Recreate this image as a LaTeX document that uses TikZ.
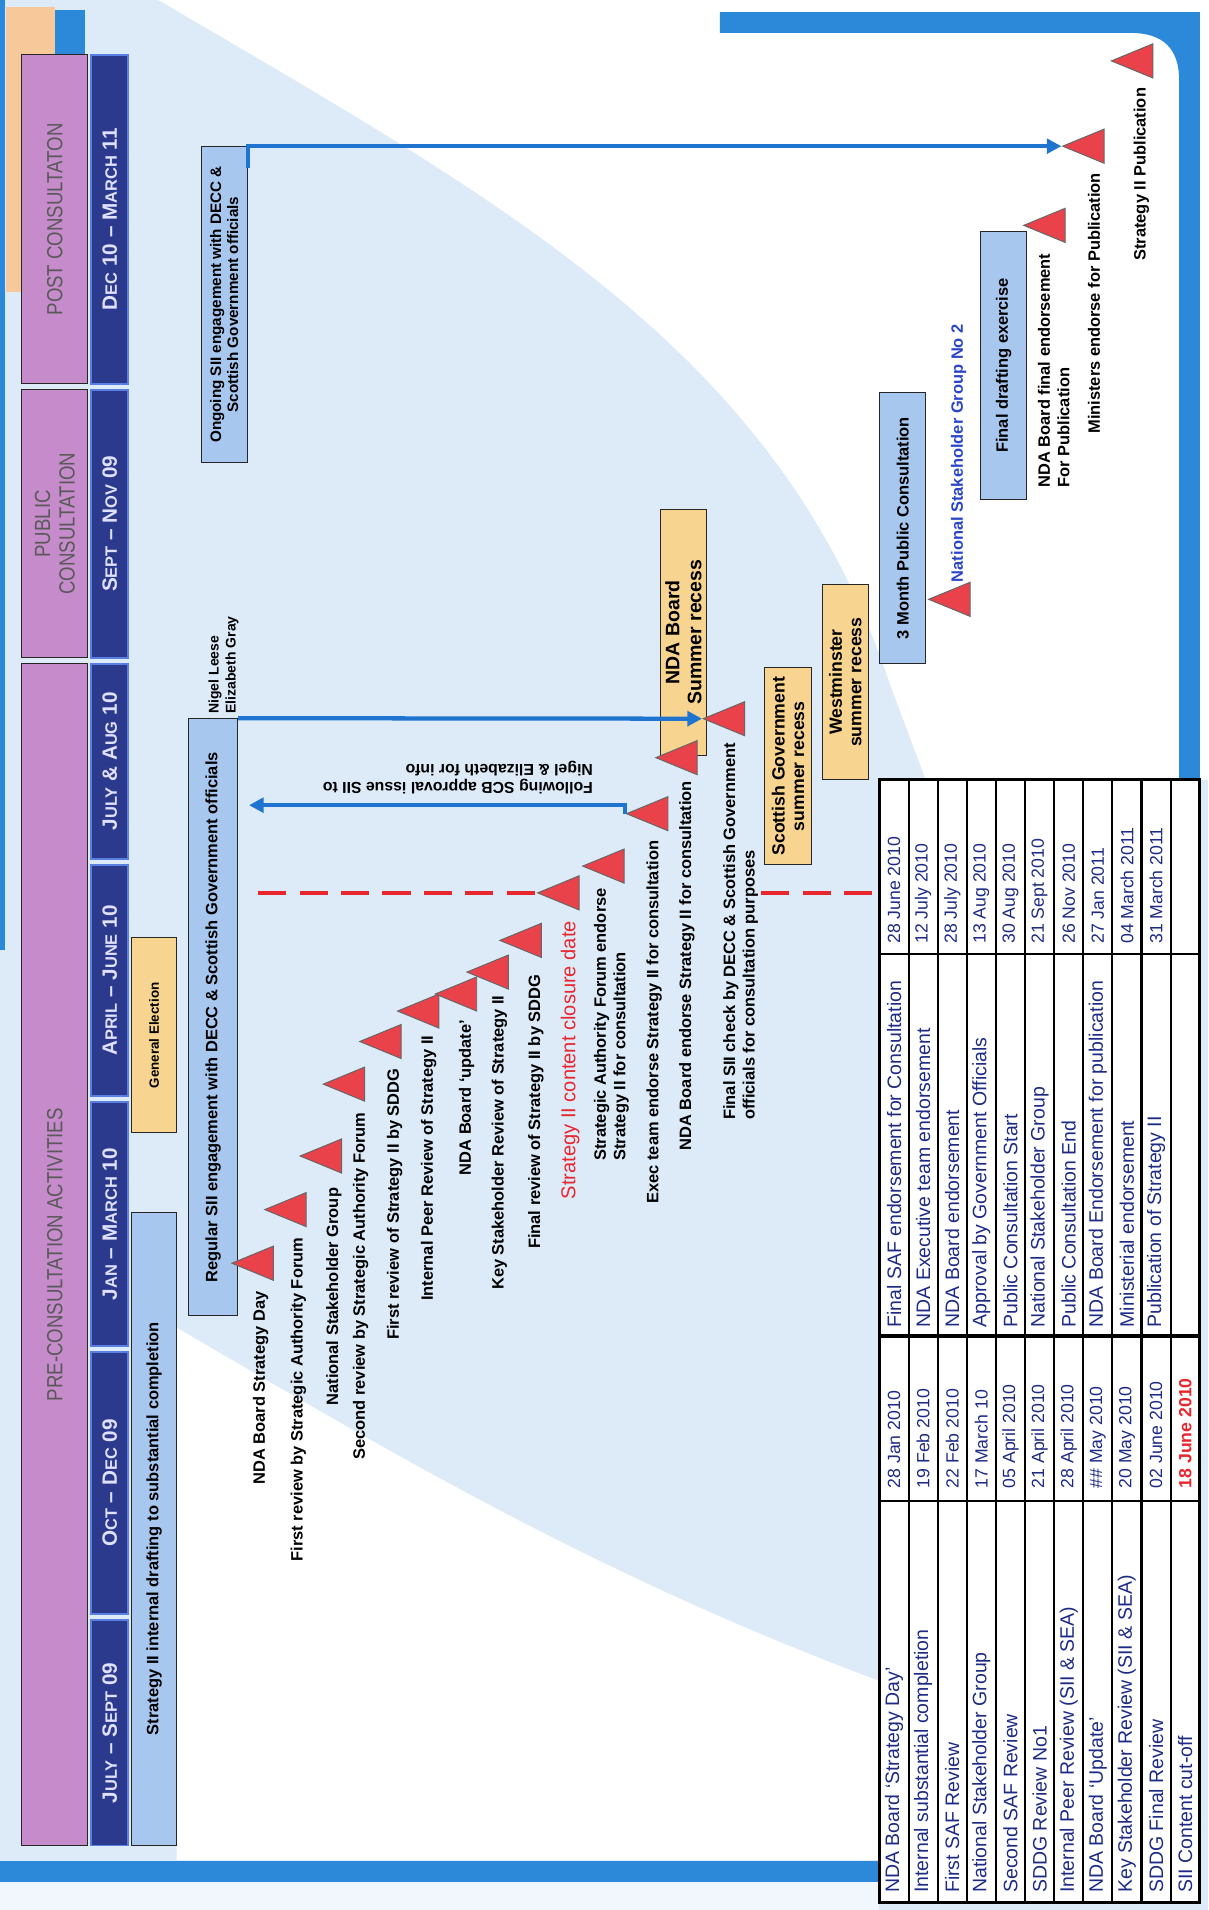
\documentclass[tikz,border=0pt]{standalone}
\usepackage{fontspec}
\setmainfont{Liberation Sans}
\newfontfamily\narrowsans{Liberation Sans}[FakeStretch=0.85]
\usetikzlibrary{shapes.geometric}
\usetikzlibrary{arrows.meta}
\usetikzlibrary{positioning}
\definecolor{bgblue}{HTML}{DDEBF8}
\definecolor{frameblue}{HTML}{2C88D9}
\definecolor{peach}{HTML}{F6C89A}
\definecolor{phasepurple}{HTML}{C58BCB}
\definecolor{monthnavy}{HTML}{2C3A8E}
\definecolor{monthedge}{HTML}{5A7FE0}
\definecolor{taskblue}{HTML}{A8C7EF}
\definecolor{recessyellow}{HTML}{F7D48F}
\definecolor{milered}{HTML}{E9424B}
\definecolor{linkblue}{HTML}{1F74CF}
\definecolor{closurered}{HTML}{E8262E}
\definecolor{nsgblue}{HTML}{2A45C8}
\definecolor{tabnavy}{HTML}{1D2B85}
\newcommand{\lowcap}[1]{{\fontsize{13.5}{15}\selectfont #1}}
\tikzset{
    phasebox/.style = {rectangle, thick, draw=black!85, fill=phasepurple, rotate=90, minimum height=54pt, align=center, text=black!65, font=\narrowsans\fontsize{18}{20}\selectfont},
    monthbar/.style = {rectangle, line width=1.5pt, draw=monthedge, fill=monthnavy, rotate=90, minimum height=30pt, text=white!88!blue, font=\bfseries\fontsize{17}{19}\selectfont},
    taskbox/.style = {rectangle, thick, draw=black!85, fill=taskblue, rotate=90, align=center, inner sep=2pt, font=\bfseries\fontsize{13.5}{15}\selectfont},
    recessbox/.style = {rectangle, thick, draw=black!85, fill=recessyellow, rotate=90, align=center, inner sep=2pt, font=\bfseries\fontsize{14.5}{16}\selectfont},
    milestone/.style = {isosceles triangle, isosceles triangle stretches, minimum width=28pt, minimum height=34pt, inner sep=0pt, rotate=180, fill=milered, draw=black!60, thick},
    mlabel/.style = {rotate=90, anchor=east, align=left, inner sep=0pt, font=\bfseries\fontsize{13.5}{16}\selectfont},
    linkarrow/.style = {-{Triangle[length=12pt,width=12pt]}, line width=3.5pt, draw=linkblue},
    closureline/.style = {line width=3pt, draw=closurered, dash pattern=on 23pt off 11pt},
    tabline/.style = {line width=1.8pt, draw=black},
    tabtext/.style = {rotate=90, anchor=west, inner sep=0pt, text=tabnavy, font=\fontsize{16}{18}\selectfont},
    tabdate/.style = {tabtext, font=\fontsize{14.5}{17}\selectfont}
}
\begin{document}
\begin{tikzpicture}[x=1pt,y=-1pt]
\useasboundingbox (0,0) rectangle (992,1568);
% background and frame
\fill[bgblue] (0,0) rectangle (992,1568);
\fill[white] (130,0) .. controls (420,170) and (640,290) .. (730,560) -- (760,640) -- (992,640) -- (992,0) -- cycle;
\fill[white] (145,1090) .. controls (300,1180) and (480,1290) .. (722,1380) -- (722,1527) -- (145,1527) -- cycle;
\fill[white!60!bgblue] (0,1545) rectangle (722,1568);
\fill[frameblue] (591,10) -- (985,10) -- (985,645) -- (968,645) -- (968,66) .. controls (968,40) and (955,27) .. (928,27) -- (591,27) -- cycle;
\fill[frameblue] (0,1528) rectangle (722,1545);
\fill[frameblue] (0,0) rectangle (4,780);
\fill[peach] (5,6) rectangle (45,240);
\fill[frameblue] (45,8) rectangle (70,45);
%
\node[phasebox, minimum width=270pt] (postph) at (45,180) {POST CONSULTATON};
\node[phasebox, minimum width=220pt] (pubph) at (45,430) {PUBLIC\\CONSULTATION};
\node[phasebox, minimum width=970pt] (preph) at (45,1030) {PRE-CONSULTATION ACTIVITIES};
%
\node[monthbar, minimum width=270pt] (decmar) at (90,180) {D\lowcap{EC} 10 -- M\lowcap{ARCH} 11};
\node[monthbar, minimum width=220pt] (sepnov) at (90,430) {S\lowcap{EPT} -- N\lowcap{OV} 09};
\node[monthbar, minimum width=160pt] (julaug) at (90,625) {J\lowcap{ULY} \& A\lowcap{UG} 10};
\node[monthbar, minimum width=190pt] (aprjun) at (90,805) {A\lowcap{PRIL} -- J\lowcap{UNE} 10};
\node[monthbar, minimum width=200pt] (janmar) at (90,1005) {J\lowcap{AN} -- M\lowcap{ARCH} 10};
\node[monthbar, minimum width=215pt] (octdec) at (90,1217.5) {O\lowcap{CT} -- D\lowcap{EC} 09};
\node[monthbar, minimum width=185pt] (julsep) at (90,1422.5) {J\lowcap{ULY} -- S\lowcap{EPT} 09};
%
\node[taskbox, minimum width=520pt, minimum height=37pt] (drafting) at (126.5,1255) {Strategy II internal drafting to substantial completion};
\node[recessbox, minimum width=160pt, minimum height=37pt, font=\bfseries\fontsize{11}{13}\selectfont] (election) at (126.5,850) {General Election};
\node[taskbox, minimum width=490pt, minimum height=40pt] (regular) at (175,835) {Regular SII engagement with DECC \& Scottish Government officials};
\node[taskbox, minimum width=260pt, minimum height=38pt, font=\bfseries\fontsize{12.5}{14}\selectfont] (ongoing) at (184,250) {Ongoing SII engagement with DECC \&\\Scottish Government officials};
\node[recessbox, minimum width=202pt, minimum height=38pt, font=\bfseries\fontsize{16}{18}\selectfont] (ndarecess) at (561,519) {NDA Board\\Summer recess};
\node[recessbox, minimum width=162pt, minimum height=38pt] (scotrecess) at (647,629) {Scottish Government\\summer recess};
\node[recessbox, minimum width=160pt, minimum height=38pt] (westrecess) at (694,560) {Westminster\\summer recess};
\node[taskbox, minimum width=223pt, minimum height=38pt] (consult) at (741,433.5) {3 Month Public Consultation};
\node[taskbox, minimum width=220pt, minimum height=38pt] (finaldraft) at (824,300) {Final drafting exercise};
%
\coordinate (cutstart) at (212,733);
\coordinate (cutrest) at (625,733);
\coordinate (cutend) at (721,733);
%
\node[milestone] (t1) at (215,1037) {};
\node[milestone] (t2) at (242,993) {};
\node[milestone] (t3) at (271,949) {};
\node[milestone] (t4) at (290,890) {};
\node[milestone] (t5) at (320,855) {};
\node[milestone] (t6) at (351,830) {};
\node[milestone] (t7) at (382,816) {};
\node[milestone] (t8) at (408,798) {};
\node[milestone] (t9) at (435,772) {};
\node[milestone] (t10) at (466,733) {};
\node[milestone] (t11) at (503,711) {};
\node[milestone] (t12) at (539,668) {};
\node[milestone] (t13) at (563,622) {};
\node[milestone] (t14) at (602,590) {};
\node[milestone] (t15) at (787,492) {};
\node[milestone] (t16) at (865,185) {};
\node[milestone] (t17) at (897,120) {};
\node[milestone] (t18) at (937,50) {};
%
\draw[closureline] (cutstart) -- (t10.apex);
\draw[closureline] (cutrest) -- (cutend);
\path (t12.apex) ++(0,-7) coordinate (execbend);
\draw[linkarrow] ([yshift=-18pt]ongoing.south east) |- (t17.apex);
\draw[linkarrow] (regular.south east) -- (t14.apex);
\draw[linkarrow, shorten >=9pt] (t12.apex) -- (execbend) -- (regular.south |- execbend);
%
\node[mlabel] (l1) at (214,1060) {NDA Board Strategy Day};
\node[mlabel] (l2) at (245,1016) {First review by Strategic Authority Forum};
\node[mlabel] (l3) at (274,975) {National Stakeholder Group};
\node[mlabel] (l4) at (296,913) {Second review by Strategic Authority Forum};
\node[mlabel] (l5) at (324,877) {First review of Strategy II by SDDG};
\node[mlabel] (l6) at (352,850) {Internal Peer Review of Strategy II};
\node[mlabel] (l7) at (383,837) {NDA Board ‘update’};
\node[mlabel] (l8) at (410,817) {Key Stakeholder Review of Strategy II};
\node[mlabel] (l9) at (440,800) {Final review of Strategy II by SDDG};
\node[mlabel, text=closurered, font=\fontsize{16.5}{19}\selectfont] (l10) at (468,756) {Strategy II content closure date};
\node[mlabel] (l11) at (502,729) {Strategic Authority Forum endorse\\Strategy II for consultation};
\node[mlabel] (l12) at (537,690) {Exec team endorse Strategy II for consultation};
\node[mlabel] (l13) at (564,641) {NDA Board endorse Strategy II for consultation};
\node[mlabel] (l14) at (608,610) {Final SII check by DECC \& Scottish Government\\officials for consultation purposes};
\node[mlabel, anchor=west, text=nsgblue] (l15) at (787,478) {National Stakeholder Group No 2};
\node[mlabel] (l16) at (865,208) {NDA Board final endorsement\\For Publication};
\node[mlabel] (l17) at (898,142) {Ministers endorse for Publication};
\node[mlabel] (l18) at (937,72) {Strategy II Publication};
\node[mlabel, anchor=south west, font=\bfseries\fontsize{11.5}{14}\selectfont] (nigel) at (196,586) {Nigel Leese\\Elizabeth Gray};
\node[rotate=180, anchor=north west, align=left, inner sep=0pt, font=\bfseries\fontsize{13}{14.5}\selectfont] (follow) at (487,652) {Following SCB approval issue SII to\\Nigel \& Elizabeth for info};
%
% key dates table
\fill[white] (722,640) rectangle (985,1562);
\foreach \k in {1,...,10} \draw[tabline] ({722+\k*23.9},640) -- ({722+\k*23.9},1562);
\foreach \c in {783,1232} \draw[tabline] (722,\c) -- (985,\c);
\draw[line width=3pt] (722,1097) -- (985,1097);
\draw[tabline, line width=2.4pt] (722,640) rectangle (985,1562);
\foreach \tname [count=\i] in {NDA Board ‘Strategy Day’, Internal substantial completion, First SAF Review, National Stakeholder Group, Second SAF Review, SDDG Review No1, Internal Peer Review (SII \& SEA), NDA Board ‘Update’, Key Stakeholder Review (SII \& SEA), SDDG Final Review, SII Content cut-off}
    \node[tabtext] (lname\i) at ({722+(\i-0.5)*23.9},1554) {\tname};
\foreach \tdate [count=\i] in {28 Jan 2010, 19 Feb 2010, 22 Feb 2010, 17 March 10, 05 April 2010, 21 April 2010, 28 April 2010, \#\# May 2010, 20 May 2010, 02 June 2010}
    \node[tabdate] (ldate\i) at ({722+(\i-0.5)*23.9},1222) {\tdate};
\node[tabdate, text=closurered, font=\bfseries\fontsize{14.5}{17}\selectfont] (ldate11) at ({722+10.5*23.9},1222) {18 June 2010};
\foreach \tname [count=\i] in {Final SAF endorsement for Consultation, NDA Executive team endorsement, NDA Board endorsement, Approval by Government Officials, Public Consultation Start, National Stakeholder Group, Public Consultation End, NDA Board Endorsement for publication, Ministerial endorsement, Publication of Strategy II}
    \node[tabtext] (rname\i) at ({722+(\i-0.5)*23.9},1090) {\tname};
\foreach \tdate [count=\i] in {28 June 2010, 12 July 2010, 28 July 2010, 13 Aug 2010, 30 Aug 2010, 21 Sept 2010, 26 Nov 2010, 27 Jan 2011, 04 March 2011, 31 March 2011}
    \node[tabdate] (rdate\i) at ({722+(\i-0.5)*23.9},775) {\tdate};
\end{tikzpicture}
\end{document}
